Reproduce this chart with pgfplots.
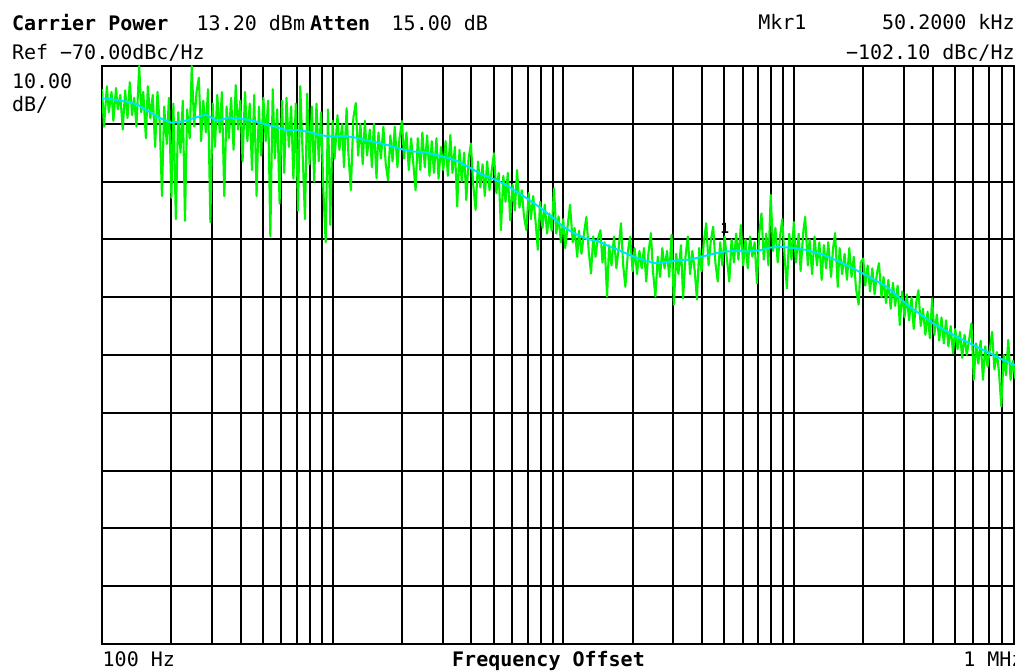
\documentclass[border=0pt]{standalone}
\usepackage{pgfplots}
\pgfplotsset{compat=1.18}
\usepackage{pgfplotstable}
\usepackage{fontspec}
\newfontfamily\hp{DejaVu Sans Mono}
\definecolor{trgreen}{RGB}{0,245,0}
\definecolor{trcyan}{RGB}{0,225,255}

\pgfplotstableread{
f y
1.00e2 -74.0
1.02e2 -80.5
1.05e2 -73.5
1.07e2 -78.0
1.10e2 -74.5
1.12e2 -79.5
1.15e2 -73.8
1.17e2 -77.5
1.20e2 -75.0
1.23e2 -81.0
1.26e2 -74.2
1.29e2 -79.0
1.32e2 -72.8
1.35e2 -78.5
1.38e2 -75.5
1.41e2 -80.5
1.45e2 -70.0
1.48e2 -78.0
1.51e2 -74.5
1.55e2 -82.5
1.58e2 -73.5
1.62e2 -79.0
1.66e2 -75.0
1.70e2 -84.0
1.74e2 -74.5
1.78e2 -80.0
1.82e2 -92.5
1.86e2 -77.0
1.91e2 -83.5
1.95e2 -75.5
2.00e2 -92.8
2.04e2 -76.5
2.09e2 -96.5
2.14e2 -78.0
2.19e2 -85.0
2.24e2 -76.0
2.29e2 -96.8
2.34e2 -77.5
2.40e2 -82.5
2.45e2 -70.0
2.51e2 -80.5
2.57e2 -74.5
2.63e2 -72.0
2.69e2 -83.0
2.75e2 -76.0
2.82e2 -81.5
2.88e2 -74.0
2.95e2 -97.0
3.02e2 -76.5
3.09e2 -84.0
3.16e2 -75.0
3.24e2 -81.5
3.31e2 -74.5
3.39e2 -92.5
3.47e2 -77.0
3.55e2 -82.5
3.63e2 -75.5
3.72e2 -84.5
3.80e2 -73.3
3.89e2 -81.0
3.98e2 -76.0
4.07e2 -86.5
4.17e2 -74.5
4.27e2 -83.0
4.37e2 -76.5
4.47e2 -88.0
4.57e2 -75.0
4.68e2 -92.5
4.79e2 -77.0
4.90e2 -85.5
5.01e2 -75.5
5.13e2 -83.0
5.25e2 -76.0
5.37e2 -99.5
5.50e2 -74.0
5.62e2 -86.0
5.75e2 -77.5
5.89e2 -93.8
6.03e2 -76.0
6.17e2 -88.5
6.31e2 -75.5
6.46e2 -84.0
6.61e2 -77.0
6.76e2 -89.5
6.92e2 -76.5
7.08e2 -95.0
7.24e2 -73.5
7.41e2 -85.0
7.59e2 -96.5
7.76e2 -74.8
7.94e2 -87.0
8.13e2 -77.0
8.32e2 -90.0
8.51e2 -76.5
8.71e2 -86.5
8.91e2 -78.0
9.12e2 -91.5
9.33e2 -100.5
9.55e2 -77.5
9.77e2 -97.5
1.00e3 -79.5
1.02e3 -86.0
1.05e3 -78.5
1.07e3 -84.5
1.10e3 -80.0
1.12e3 -87.5
1.15e3 -77.3
1.17e3 -85.0
1.20e3 -91.5
1.23e3 -79.0
1.26e3 -76.4
1.29e3 -85.5
1.32e3 -80.0
1.35e3 -87.0
1.38e3 -79.5
1.41e3 -85.5
1.45e3 -81.0
1.48e3 -87.5
1.51e3 -80.0
1.55e3 -89.4
1.58e3 -81.5
1.62e3 -86.0
1.66e3 -80.5
1.70e3 -87.0
1.74e3 -89.8
1.78e3 -82.0
1.82e3 -86.5
1.86e3 -80.5
1.91e3 -87.5
1.95e3 -82.5
2.00e3 -79.5
2.04e3 -86.0
2.09e3 -81.5
2.14e3 -88.0
2.19e3 -82.5
2.24e3 -87.0
2.29e3 -91.5
2.34e3 -82.5
2.40e3 -88.0
2.45e3 -81.5
2.51e3 -87.5
2.57e3 -82.0
2.63e3 -89.0
2.69e3 -83.0
2.75e3 -88.5
2.82e3 -82.5
2.88e3 -89.5
2.95e3 -84.0
3.02e3 -88.0
3.09e3 -83.0
3.16e3 -89.0
3.24e3 -81.9
3.31e3 -88.5
3.39e3 -84.0
3.47e3 -94.3
3.55e3 -84.5
3.63e3 -90.0
3.72e3 -85.0
3.80e3 -93.2
3.89e3 -86.0
3.98e3 -83.4
4.07e3 -90.5
4.17e3 -94.9
4.27e3 -86.5
4.37e3 -91.0
4.47e3 -87.0
4.57e3 -92.5
4.68e3 -86.5
4.79e3 -91.5
4.90e3 -88.0
5.01e3 -85.1
5.13e3 -92.0
5.25e3 -88.5
5.37e3 -98.4
5.50e3 -89.0
5.62e3 -93.5
5.75e3 -88.5
5.89e3 -96.7
6.03e3 -90.5
6.17e3 -95.0
6.31e3 -88.0
6.46e3 -94.5
6.61e3 -91.5
6.76e3 -96.0
6.92e3 -98.4
7.08e3 -92.0
7.24e3 -96.5
7.41e3 -92.5
7.59e3 -97.0
7.76e3 -101.8
7.94e3 -93.5
8.13e3 -98.0
8.32e3 -94.0
8.51e3 -99.0
8.71e3 -95.5
8.91e3 -98.5
9.12e3 -91.2
9.33e3 -99.0
9.55e3 -96.0
9.77e3 -100.5
1.00e4 -96.5
1.02e4 -101.5
1.05e4 -97.0
1.07e4 -94.0
1.10e4 -100.5
1.12e4 -98.0
1.15e4 -103.0
1.17e4 -98.5
1.20e4 -102.5
1.23e4 -99.0
1.26e4 -96.1
1.29e4 -102.0
1.32e4 -105.9
1.35e4 -99.5
1.38e4 -103.0
1.41e4 -100.0
1.45e4 -98.4
1.48e4 -104.0
1.51e4 -100.5
1.55e4 -109.9
1.58e4 -101.0
1.62e4 -104.5
1.66e4 -99.5
1.70e4 -105.0
1.74e4 -101.5
1.78e4 -97.2
1.82e4 -104.5
1.86e4 -108.2
1.91e4 -102.0
1.95e4 -99.5
2.00e4 -105.5
2.04e4 -101.5
2.09e4 -106.0
2.14e4 -102.0
2.19e4 -105.0
2.24e4 -101.5
2.29e4 -107.3
2.34e4 -102.5
2.40e4 -98.9
2.45e4 -105.5
2.51e4 -109.9
2.57e4 -103.0
2.63e4 -106.5
2.69e4 -101.5
2.75e4 -105.0
2.82e4 -102.0
2.88e4 -106.5
2.95e4 -99.2
3.02e4 -111.3
3.09e4 -102.5
3.16e4 -106.0
3.24e4 -101.0
3.31e4 -110.2
3.39e4 -103.0
3.47e4 -99.5
3.55e4 -106.0
3.63e4 -102.0
3.72e4 -105.5
3.80e4 -110.4
3.89e4 -101.5
3.98e4 -105.5
4.07e4 -100.5
4.17e4 -97.2
4.27e4 -104.5
4.37e4 -100.0
4.47e4 -97.8
4.57e4 -104.0
4.68e4 -107.3
4.79e4 -100.5
4.90e4 -104.5
5.01e4 -99.5
5.13e4 -103.5
5.25e4 -107.3
5.37e4 -100.0
5.50e4 -104.0
5.62e4 -99.0
5.75e4 -103.5
5.89e4 -97.5
6.03e4 -104.5
6.17e4 -100.0
6.31e4 -105.0
6.46e4 -99.5
6.61e4 -103.0
6.76e4 -100.5
6.92e4 -107.6
7.08e4 -99.0
7.24e4 -95.5
7.41e4 -103.5
7.59e4 -99.0
7.76e4 -104.5
7.94e4 -92.3
8.13e4 -102.0
8.32e4 -98.0
8.51e4 -104.0
8.71e4 -99.5
8.91e4 -96.5
9.12e4 -103.0
9.33e4 -108.5
9.55e4 -99.0
9.77e4 -103.5
1.00e5 -97.0
1.02e5 -104.0
1.05e5 -99.0
1.07e5 -105.5
1.10e5 -98.5
1.12e5 -96.1
1.15e5 -104.5
1.17e5 -100.0
1.20e5 -106.0
1.23e5 -99.5
1.26e5 -104.5
1.29e5 -100.5
1.32e5 -107.0
1.35e5 -101.0
1.38e5 -105.0
1.41e5 -100.5
1.45e5 -106.5
1.48e5 -101.5
1.51e5 -98.9
1.55e5 -108.2
1.58e5 -101.5
1.62e5 -106.0
1.66e5 -102.5
1.70e5 -107.0
1.74e5 -101.5
1.78e5 -106.5
1.82e5 -103.0
1.86e5 -108.5
1.91e5 -111.3
1.95e5 -104.0
2.00e5 -103.3
2.04e5 -108.0
2.09e5 -104.5
2.14e5 -109.0
2.19e5 -105.0
2.24e5 -109.5
2.29e5 -106.0
2.34e5 -104.1
2.40e5 -110.0
2.45e5 -106.5
2.51e5 -111.0
2.57e5 -107.0
2.63e5 -112.0
2.69e5 -107.5
2.75e5 -111.5
2.82e5 -108.0
2.88e5 -114.8
2.95e5 -109.0
3.02e5 -113.5
3.09e5 -109.5
3.16e5 -114.0
3.24e5 -110.0
3.31e5 -115.5
3.39e5 -111.0
3.47e5 -108.8
3.55e5 -115.0
3.63e5 -112.0
3.72e5 -116.5
3.80e5 -112.5
3.89e5 -117.1
3.98e5 -110.2
4.07e5 -116.5
4.17e5 -113.0
4.27e5 -117.5
4.37e5 -113.5
4.47e5 -118.0
4.57e5 -114.0
4.68e5 -118.5
4.79e5 -115.0
4.90e5 -119.7
5.01e5 -115.5
5.13e5 -119.0
5.25e5 -116.0
5.37e5 -120.5
5.50e5 -116.5
5.62e5 -120.0
5.75e5 -117.5
5.89e5 -114.5
6.03e5 -124.3
6.17e5 -118.0
6.31e5 -121.5
6.46e5 -117.5
6.61e5 -124.3
6.76e5 -118.5
6.92e5 -122.0
7.08e5 -119.0
7.24e5 -116.0
7.41e5 -122.5
7.59e5 -119.5
7.76e5 -123.0
7.94e5 -128.9
8.13e5 -120.0
8.32e5 -123.5
8.51e5 -117.4
8.71e5 -124.3
8.91e5 -121.0
9.12e5 -124.0
9.33e5 -120.5
9.55e5 -123.5
9.77e5 -121.5
1.00e6 -123.0
}\greentrace

\pgfplotstableread{
f y
1.000e2 -75.6
1.122e2 -75.8
1.259e2 -76.1
1.413e2 -76.6
1.585e2 -77.8
1.778e2 -79.0
1.995e2 -79.8
2.239e2 -79.6
2.512e2 -79.0
2.818e2 -78.4
3.162e2 -79.5
3.548e2 -78.9
3.981e2 -79.1
4.467e2 -79.4
5.012e2 -80.0
5.623e2 -80.5
6.310e2 -81.1
7.079e2 -81.1
7.943e2 -81.4
8.913e2 -82.0
1.000e3 -82.2
1.122e3 -82.1
1.259e3 -82.4
1.413e3 -82.9
1.585e3 -83.3
1.778e3 -83.8
1.995e3 -84.4
2.239e3 -84.8
2.512e3 -84.9
2.818e3 -85.4
3.162e3 -85.9
3.548e3 -86.6
3.981e3 -87.7
4.467e3 -88.8
5.012e3 -89.6
5.623e3 -90.5
6.310e3 -91.8
7.079e3 -93.1
7.943e3 -94.5
8.913e3 -96.1
1.000e4 -97.8
1.122e4 -99.0
1.259e4 -99.9
1.413e4 -100.3
1.585e4 -101.2
1.778e4 -102.0
1.995e4 -102.9
2.239e4 -103.6
2.512e4 -104.1
2.818e4 -103.9
3.162e4 -103.6
3.548e4 -103.5
3.981e4 -103.0
4.467e4 -102.5
5.012e4 -102.1
5.623e4 -102.0
6.310e4 -102.1
7.079e4 -101.9
7.943e4 -101.4
8.913e4 -101.3
1.000e5 -101.5
1.122e5 -101.8
1.259e5 -102.3
1.413e5 -103.0
1.585e5 -103.9
1.778e5 -104.9
1.995e5 -105.9
2.239e5 -107.0
2.512e5 -108.1
2.818e5 -109.8
3.162e5 -111.6
3.548e5 -113.0
3.981e5 -114.4
4.467e5 -115.6
5.012e5 -116.7
5.623e5 -117.7
6.310e5 -118.7
7.079e5 -119.7
7.943e5 -120.7
8.913e5 -121.6
1.000e6 -122.3
}\cyantrace

\begin{document}
\begin{tikzpicture}
\begin{axis}[
  at={(51pt,13.5pt)}, anchor=south west,
  scale only axis, width=461.2pt, height=289pt,
  xmode=log, xmin=100, xmax=1e6, ymin=-170, ymax=-70,
  ytick={-170,-160,...,-70},
  xtick={100,1000,10000,100000,1000000},
  xticklabels={}, yticklabels={},
  major tick length=0pt, minor tick length=0pt,
  grid=both,
  major grid style={black, line width=1pt},
  minor grid style={black, line width=1pt},
  axis line style={black, line width=1.1pt},
]
\addplot[trgreen, line width=1.05pt, line join=round] table[x=f,y=y]{\greentrace};
\addplot[trcyan, line width=1pt] table[x=f,y=y]{\cyantrace};
\node[font=\hp\bfseries\fontsize{7}{8}\selectfont, anchor=base, yshift=9pt] at (axis cs:50200,-102.1) {1};
\end{axis}
\begin{scope}[every node/.style={inner sep=0pt, outer sep=0pt, font=\hp\fontsize{10}{12}\selectfont}]
\node[anchor=base west] at (6pt,320.15pt) {\bfseries Carrier Power};
\node[anchor=base west] at (98.35pt,320.15pt) {13.20 dBm};
\node[anchor=base west] at (155pt,320.15pt) {\bfseries Atten};
\node[anchor=base west] at (195.85pt,320.15pt) {15.00 dB};
\node[anchor=base west] at (6pt,305.5pt) {Ref −70.00dBc/Hz};
\node[anchor=base west] at (6pt,291.35pt) {10.00};
\node[anchor=base west] at (6pt,279.65pt) {dB/};
\node[anchor=base west] at (379.15pt,320.5pt) {Mkr1};
\node[anchor=base east] at (507.3pt,320.5pt) {50.2000 kHz};
\node[anchor=base east] at (507.3pt,305.5pt) {−102.10 dBc/Hz};
\node[anchor=base west] at (51.35pt,2.15pt) {100 Hz};
\node[anchor=base] at (274.25pt,2.15pt) {\bfseries Frequency Offset};
\node[anchor=base west] at (481.65pt,2.15pt) {1 MHz};
\end{scope}
\pgfresetboundingbox
\path[use as bounding box] (0pt,0pt) rectangle (507.5pt,335.5pt);
\end{tikzpicture}
\end{document}
